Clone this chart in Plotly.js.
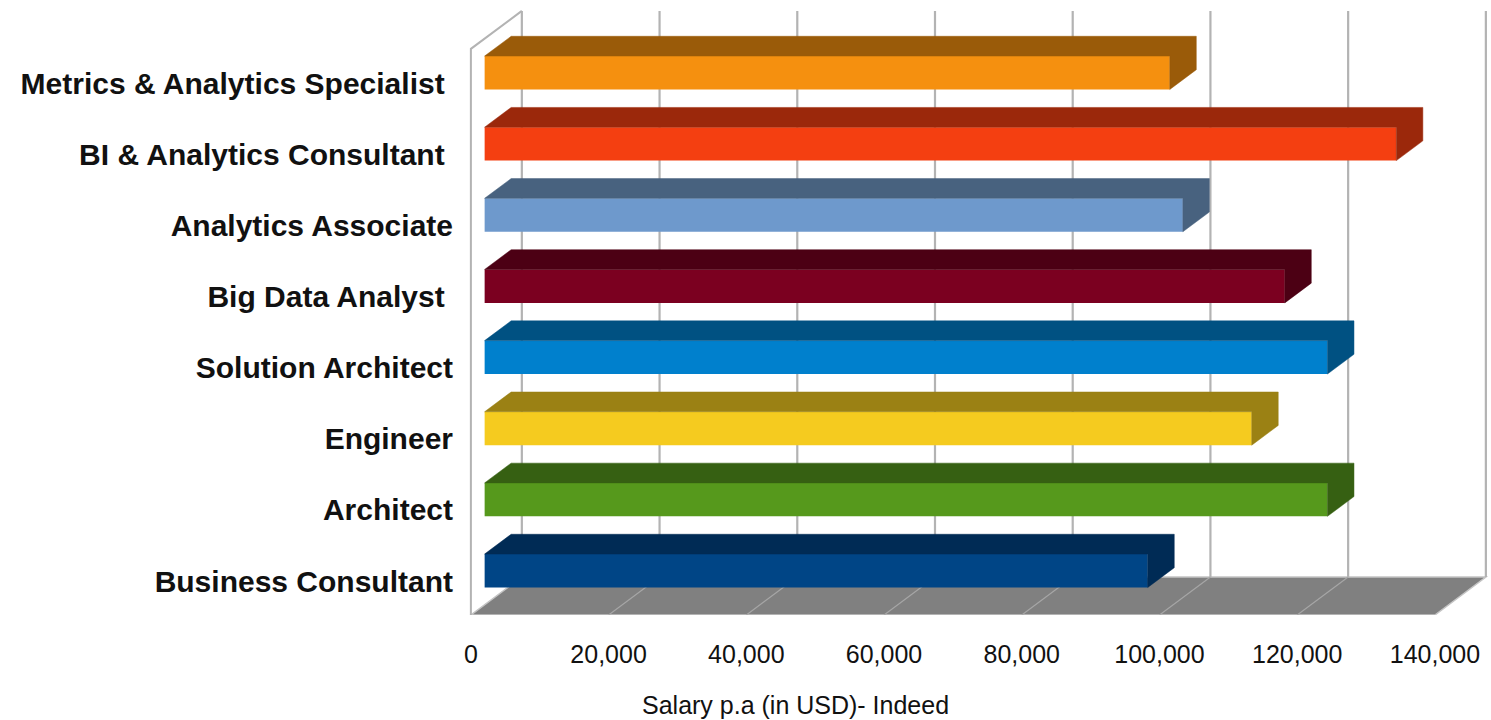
<!DOCTYPE html>
<html>
<head>
<meta charset="utf-8">
<script src="https://cdn.plot.ly/plotly-3.0.1.min.js"></script>
<style>html,body{margin:0;padding:0;background:#fff;}#chart{width:1491px;height:720px;}</style>
</head>
<body>
<div id="chart"></div>
<script>
// ---- data ----
const categories = ['Business Consultant', 'Architect', 'Engineer', 'Solution Architect',
  'Big Data Analyst\u00a0', 'Analytics Associate', 'BI & Analytics Consultant\u00a0', 'Metrics & Analytics Specialist\u00a0'];
const salaries = [96300, 122400, 111400, 122400, 116200, 101400, 132400, 99500];
const frontColors = ['#004586', '#56991c', '#f5cb1f', '#0080cd', '#7b0020', '#6e99cc', '#f43f11', '#f5900f'];
const sideColors  = ['#002b55', '#366012', '#9b8114', '#005182', '#4c0014', '#48627f', '#9b280b', '#9a5b09'];
const xTickVals = [0, 20000, 40000, 60000, 80000, 100000, 120000, 140000];
const xTitle = 'Salary p.a (in USD)- Indeed';

// ---- pseudo-3D projection constants ----
const DX = 7400;      // x data units per unit depth
const DY = 0.534;     // y data units per unit depth
const FLOOR = -0.478; // world y of floor
const WALL_TOP = 7.48;
const D0 = 0.27, D1 = 0.79; // bar depth range
const HALF = 0.235;   // half bar height (world)
const XMAX = xTickVals[xTickVals.length - 1];
const GRID = '#b3b3b3';

// frame (floor, walls, gridlines) as shapes below the traces
const shapes = [];
shapes.push({
  type: 'path', xref: 'x', yref: 'y', layer: 'below',
  path: `M0,${FLOOR} L${XMAX},${FLOOR} L${XMAX + DX},${FLOOR + DY} L${DX},${FLOOR + DY} Z`,
  fillcolor: '#808080', line: {color: '#c4c4c4', width: 1.5}
});
xTickVals.slice(1, -1).forEach(v => {
  shapes.push({type: 'line', xref: 'x', yref: 'y', layer: 'below',
    x0: v, y0: FLOOR, x1: v + DX, y1: FLOOR + DY, line: {color: '#a6a6a6', width: 1.2}});
});
xTickVals.forEach(v => {
  shapes.push({type: 'line', xref: 'x', yref: 'y', layer: 'below',
    x0: v + DX, y0: FLOOR + DY, x1: v + DX, y1: WALL_TOP + DY, line: {color: GRID, width: 2.2}});
});
shapes.push({type: 'path', xref: 'x', yref: 'y', layer: 'below',
  path: `M0,${FLOOR} L0,${WALL_TOP} L${DX},${WALL_TOP + DY}`, line: {color: GRID, width: 2}});

const traces = [];
// bar front faces
traces.push({
  type: 'bar', orientation: 'h',
  x: salaries,
  y: categories.map((c, i) => i + D0 * DY),
  base: salaries.map(() => D0 * DX),
  width: 2 * HALF,
  marker: {color: frontColors, line: {width: 0}},
  hoverinfo: 'skip'
});
// bar top + side faces
salaries.forEach((v, i) => {
  const yb = i - HALF, yt = i + HALF;
  traces.push({
    type: 'scatter', mode: 'lines', fill: 'toself', fillcolor: sideColors[i],
    x: [D0 * DX, v + D0 * DX, v + D0 * DX, v + D1 * DX, v + D1 * DX, D1 * DX, D0 * DX],
    y: [yt + D0 * DY, yt + D0 * DY, yb + D0 * DY, yb + D1 * DY, yt + D1 * DY, yt + D1 * DY, yt + D0 * DY],
    line: {color: sideColors[i], width: 0.5}, hoverinfo: 'skip', cliponaxis: false
  });
});

const layout = {
  width: 1491, height: 720,
  margin: {l: 464, r: 1, t: 5, b: 105},
  paper_bgcolor: '#ffffff', plot_bgcolor: '#ffffff',
  showlegend: false,
  font: {family: 'Liberation Sans, Arial, sans-serif', color: '#000'},
  xaxis: {
    range: [-1000, 148000], showgrid: false, zeroline: false, showline: false, ticks: '',
    tickvals: xTickVals, ticktext: xTickVals.map(v => v.toLocaleString('en-US')),
    tickfont: {size: 25, color: '#111', family: 'Liberation Sans, Arial, sans-serif'},
    ticklabelstandoff: 22, fixedrange: true
  },
  yaxis: {
    range: [FLOOR, FLOOR + 610 / 71.14], showgrid: false, zeroline: false, showline: false, ticks: '',
    tickvals: categories.map((c, i) => i), ticktext: categories,
    tickfont: {size: 30, color: '#111', weight: 'bold', family: 'Liberation Sans, Arial, sans-serif'},
    ticklabelstandoff: 10, fixedrange: true
  },
  shapes: shapes,
  annotations: [{
    text: xTitle, xref: 'paper', yref: 'paper', x: (795 - 464) / 1026, y: (615 - 705) / 610,
    xanchor: 'center', yanchor: 'middle', showarrow: false,
    font: {size: 25, color: '#111', family: 'Liberation Sans, Arial, sans-serif'}
  }]
};

Plotly.newPlot('chart', traces, layout, {staticPlot: true, displayModeBar: false});
</script>
</body>
</html>
